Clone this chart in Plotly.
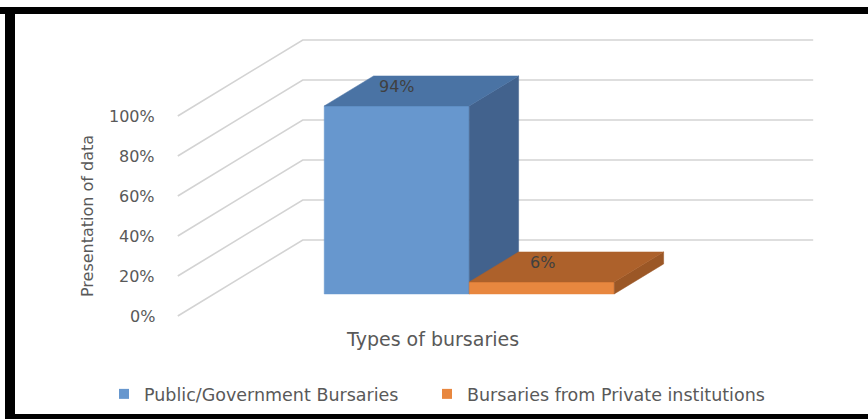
import plotly.graph_objects as go

# ---- data -------------------------------------------------------------
series_names = ["Public/Government Bursaries", "Bursaries from Private institutions"]
series_values = [94, 6]                      # percent
category_title = "Types of bursaries"
value_title = "Presentation of data"
tick_values = [0, 20, 40, 60, 80, 100]
tick_labels = ["0%", "20%", "40%", "60%", "80%", "100%"]

# ---- styling ----------------------------------------------------------
front_colors = ["#6797CE", "#E8873F"]
top_colors = ["#4A73A4", "#AD612B"]
side_colors = ["#42628D", "#9B5726"]
grid_color = "#D3D3D3"
text_color = "#595959"
label_color = "#404040"
FONT = "DejaVu Sans"
W, H = 868, 419

# oblique projection used to fake the 3-D column look:
# u = position along the category axis (one unit per bar width)
# v = value (percent), d = depth (0 = front of floor, 1 = back wall)
DEPTH_DX = 0.862      # horizontal shift for full depth, in bar widths
DEPTH_DY = 38.0       # vertical shift for full depth, in percent units
GAP = 0.76            # floor margin either side of the bar group
BAR_D0, BAR_D1 = 0.29, 0.685   # front / back depth of the columns


def proj(u, v, d):
    return u + d * DEPTH_DX, v + d * DEPTH_DY


def polygon(points):
    xs, ys = [], []
    for u, v, d in points:
        x, y = proj(u, v, d)
        xs.append(x)
        ys.append(y)
    xs.append(xs[0])
    ys.append(ys[0])
    return xs, ys


fig = go.Figure()

# walls: gridlines on the side wall and the back wall
n_series = len(series_values)
gx, gy = [], []
for t in tick_values:
    for u, d in [(-GAP, 0), (-GAP, 1), (n_series + GAP, 1)]:
        x, y = proj(u, t, d)
        gx.append(x)
        gy.append(y)
    gx.append(None)
    gy.append(None)
fig.add_trace(go.Scatter(x=gx, y=gy, mode="lines",
                         line=dict(color=grid_color, width=1.6),
                         hoverinfo="skip", showlegend=False))

# columns: front, right side and top faces
for i, val in enumerate(series_values):
    u0, u1 = i, i + 1
    faces = [
        ([(u0, 0, BAR_D0), (u1, 0, BAR_D0), (u1, val, BAR_D0), (u0, val, BAR_D0)], front_colors[i]),
        ([(u1, 0, BAR_D0), (u1, 0, BAR_D1), (u1, val, BAR_D1), (u1, val, BAR_D0)], side_colors[i]),
        ([(u0, val, BAR_D0), (u1, val, BAR_D0), (u1, val, BAR_D1), (u0, val, BAR_D1)], top_colors[i]),
    ]
    for pts, col in faces:
        xs, ys = polygon(pts)
        fig.add_trace(go.Scatter(x=xs, y=ys, mode="lines", fill="toself",
                                 fillcolor=col, line=dict(color=col, width=0.5),
                                 hoverinfo="skip", showlegend=False))

# legend entries, one legend box per series so each can be placed freely
legend_ids = ["legend", "legend2"]
legend_x = [104, 427]          # left edge of each legend entry, px
for i, name in enumerate(series_names):
    fig.add_trace(go.Scatter(x=[None], y=[None], mode="markers", name=name,
                             legend=legend_ids[i],
                             marker=dict(symbol="square", size=10, color=front_colors[i])))

annotations = []
# value labels on the column tops
for i, val in enumerate(series_values):
    x, y = proj(i + 0.5, val, (BAR_D0 + BAR_D1) / 2)
    annotations.append(dict(x=x, y=y, text=f"{val}%", showarrow=False,
                            xshift=-24, yshift=4,
                            font=dict(family=FONT, size=16, color=label_color)))
# value axis tick labels at the front edge of the side wall
for t, lab in zip(tick_values, tick_labels):
    x, y = proj(-GAP, t, 0)
    annotations.append(dict(x=x, y=y, text=lab, showarrow=False,
                            xanchor="right", yanchor="middle", xshift=-21,
                            font=dict(family=FONT, size=16, color=text_color)))
# axis titles
annotations.append(dict(xref="paper", yref="paper", x=87 / W, y=1 - 216 / H,
                        text=value_title, textangle=-90, showarrow=False,
                        xanchor="center", yanchor="middle",
                        font=dict(family=FONT, size=16, color=text_color)))
annotations.append(dict(xref="paper", yref="paper", x=432 / W, y=1 - 339 / H,
                        text=category_title, showarrow=False,
                        xanchor="center", yanchor="middle",
                        font=dict(family=FONT, size=19, color=text_color)))

shapes = [
    # black frame around the chart (top, left, bottom)
    dict(type="rect", xref="paper", yref="paper", x0=0, x1=1,
         y0=1 - 14 / H, y1=1 - 7 / H, fillcolor="black", line_width=0),
    dict(type="rect", xref="paper", yref="paper", x0=5 / W, x1=15 / W,
         y0=0, y1=1 - 7 / H, fillcolor="black", line_width=0),
    dict(type="rect", xref="paper", yref="paper", x0=5 / W, x1=1,
         y0=0, y1=5 / H, fillcolor="black", line_width=0),
]

legend_style = dict(orientation="h", xanchor="left", y=1 - 394 / H, yanchor="middle",
                    font=dict(family=FONT, size=17.5, color=text_color),
                    itemwidth=30, bgcolor="rgba(0,0,0,0)")

fig.update_layout(
    width=W, height=H,
    margin=dict(l=0, r=0, t=0, b=0),
    paper_bgcolor="white", plot_bgcolor="white",
    xaxis=dict(range=[-1.986, 4.0], visible=False, fixedrange=True),
    yaxis=dict(range=[-51.5, 158], visible=False, fixedrange=True),
    showlegend=True,
    legend=dict(x=legend_x[0] / W, **legend_style),
    legend2=dict(x=legend_x[1] / W, **legend_style),
    annotations=annotations,
    shapes=shapes,
)

fig.write_html("out.html")
